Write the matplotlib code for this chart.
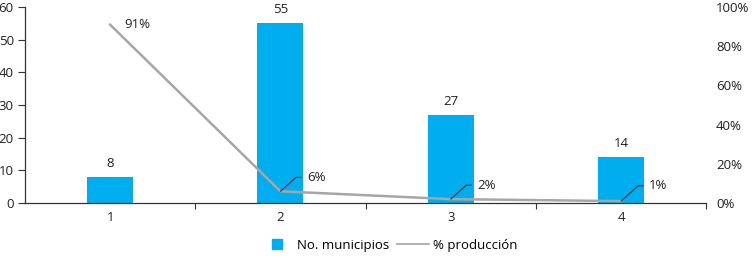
import matplotlib.pyplot as plt
from matplotlib.ticker import FixedLocator
from matplotlib.lines import Line2D

plt.rcParams['font.family'] = ['Open Sans', 'DejaVu Sans']
plt.rcParams['font.size'] = 9.5

# Données
categorias = [1, 2, 3, 4]
municipios = [8, 55, 27, 14]
produccion = [91, 6, 2, 1]
etiquetas_pct = ['91%', '6%', '2%', '1%']

color_barra = '#00AEEF'
color_linea = '#A6A6A6'
color_texto = '#231F20'

fig = plt.figure(figsize=(7.52, 2.61), dpi=100)
ax = fig.add_axes([0.0332, 0.222, 0.906, 0.751])

barras = ax.bar(categorias, municipios, width=0.27, color=color_barra,
                label='No. municipios', zorder=2)
ax.bar_label(barras, padding=5, color=color_texto)

ax.set_xlim(0.5, 4.5)
ax.set_ylim(0, 60)
ax.set_yticks(range(0, 61, 10))
ax.set_xticks(categorias)
ax.xaxis.set_minor_locator(FixedLocator([1.5, 2.5, 3.5, 4.5]))
ax.tick_params(axis='x', which='major', length=0, pad=6, colors=color_texto)
ax.tick_params(axis='x', which='minor', length=4, width=0.8, color='#333333')
ax.tick_params(axis='y', length=5, width=0.8, color='#333333', pad=3,
               labelcolor=color_texto)
for s in ['top', 'right']:
    ax.spines[s].set_visible(False)
for s in ['left', 'bottom']:
    ax.spines[s].set_linewidth(0.9)
    ax.spines[s].set_color('#333333')

# Eje secundario
ax2 = ax.twinx()
linea, = ax2.plot(categorias, produccion, color=color_linea, lw=1.8,
                  label='% producción', zorder=3)
ax2.set_ylim(0, 100)
ax2.set_yticks(range(0, 101, 20))
ax2.set_yticklabels([f'{v}%' for v in range(0, 101, 20)])
ax2.tick_params(axis='y', length=0, pad=7, labelcolor=color_texto)
for s in ax2.spines.values():
    s.set_visible(False)

# Etiquetas de la línea
ax2.annotate(etiquetas_pct[0], (categorias[0], produccion[0]),
             xytext=(10, 0), textcoords='offset points',
             ha='left', va='center', color=color_texto)
desfases = [(19, 10), (19, 10), (20, 11)]
for i in range(1, 4):
    ax2.annotate(etiquetas_pct[i], (categorias[i], produccion[i]),
                 xytext=desfases[i - 1], textcoords='offset points',
                 ha='left', va='center', color=color_texto,
                 arrowprops=dict(arrowstyle='-', color='#333333', lw=0.8,
                                 relpos=(0, 0.5), shrinkA=2, shrinkB=0,
                                 connectionstyle='angle,angleA=0,angleB=42,rad=0'))

# Leyenda
cuadro = Line2D([], [], ls='none', marker='s', markersize=7.5,
                markerfacecolor=color_barra, markeredgecolor=color_barra)
linea_ley = Line2D([], [], color=color_linea, lw=1.2)
fig.legend(handles=[cuadro, linea_ley], labels=['No. municipios', '% producción'],
           loc='center', bbox_to_anchor=(0.518, 0.06),
           ncol=2, frameon=False, handlelength=2.4,
           columnspacing=0.6, handletextpad=0.3)

plt.savefig('out.png', dpi=100)
